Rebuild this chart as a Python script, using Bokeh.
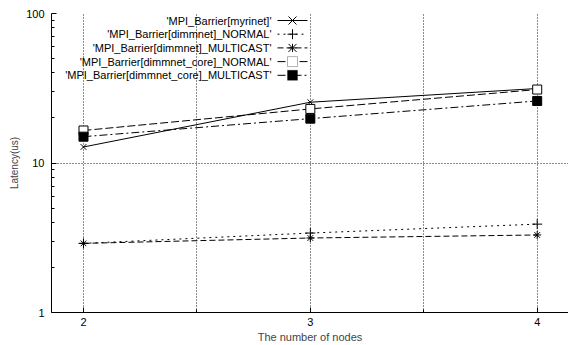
from bokeh.plotting import figure
from bokeh.models import (Range1d, FixedTicker, Label, Arrow, BoxAnnotation)
from bokeh.embed import file_html
from bokeh.resources import INLINE

nodes = [2, 3, 4]
myrinet = [12.8, 25.5, 31.5]
dimmnet_normal = [2.9, 3.4, 3.9]
dimmnet_multicast = [2.9, 3.15, 3.3]
core_normal = [16.5, 23.0, 31.0]
core_multicast = [15.0, 19.8, 26.0]

series_names = ["'MPI_Barrier[myrinet]'",
                "'MPI_Barrier[dimmnet]_NORMAL'",
                "'MPI_Barrier[dimmnet]_MULTICAST'",
                "'MPI_Barrier[dimmnet_core]_NORMAL'",
                "'MPI_Barrier[dimmnet_core]_MULTICAST'"]
series_values = [myrinet, dimmnet_normal, dimmnet_multicast, core_normal, core_multicast]

x_ticks = [2, 3, 4]
x_minor = [2.5, 3.5]
y_ticks = [1, 10, 100]
y_tick_labels = ["1", "10", "100"]

FONT = "Liberation Sans"
styles = [
    dict(dash="solid", marker="x", size=8, fill="black"),
    dict(dash="2 4", marker="cross", size=10, fill="black"),
    dict(dash="6 3", marker="asterisk", size=8, fill="black"),
    dict(dash="8 3", marker="square", size=9, fill="white"),
    dict(dash="8 3 2 3", marker="square", size=9, fill="black"),
]

p = figure(width=568, height=345, y_axis_type="log",
           x_range=Range1d(1.859, 4.138), y_range=Range1d(1, 100),
           output_backend="svg", toolbar_location=None,
           min_border_left=51, min_border_right=0, min_border_top=13, min_border_bottom=33)
p.outline_line_color = None
p.background_fill_color = "white"
p.border_fill_color = "white"

for vals, st in zip(series_values, styles):
    p.line(nodes, vals, line_color="black", line_width=1, line_dash=st["dash"])
    p.scatter(nodes, vals, marker=st["marker"], size=st["size"], line_color="black",
              fill_color=st["fill"], line_width=1)

# axes
p.xaxis.ticker = FixedTicker(ticks=x_ticks, minor_ticks=x_minor)
p.yaxis.ticker = FixedTicker(ticks=y_ticks,
                             minor_ticks=[v * d for d in (1, 10) for v in range(2, 10)])
p.yaxis.major_label_overrides = {t: s for t, s in zip(y_ticks, y_tick_labels)}
for ax in (p.xaxis[0], p.yaxis[0]):
    ax.axis_line_color = "black"
    ax.major_tick_in = 5
    ax.major_tick_out = 0
    ax.minor_tick_in = 3
    ax.minor_tick_out = 0
    ax.major_label_text_font = FONT
    ax.major_label_text_font_size = "11px"
    ax.axis_label_text_font = FONT
    ax.axis_label_text_font_size = "11px"
    ax.axis_label_text_font_style = "normal"
    ax.major_label_text_color = "black"
p.yaxis.axis_label_text_font_size = "10px"
p.xaxis.major_label_standoff = 5
p.yaxis.major_label_standoff = 7
p.xaxis.axis_label = "The number of nodes"
p.yaxis.axis_label = "Latency(us)"
p.xaxis.axis_label_standoff = 2
p.yaxis.axis_label_standoff = 3

for g in (p.xgrid[0], p.ygrid[0]):
    g.grid_line_color = "black"
    g.grid_line_dash = "1 2"
    g.grid_line_alpha = 0.9
p.xgrid.minor_grid_line_color = "black"
p.xgrid.minor_grid_line_dash = "1 2"
p.xgrid.minor_grid_line_alpha = 0.9

# manual legend (text right-aligned, sample on the right); screen units from frame bottom-left
text_right = 220
line_x0, line_x1, mk_x = 226, 256, 241
row0, row_step = 292, -13.7

def seg(x0, y0, x1, y1, dash="solid"):
    p.add_layout(Arrow(x_start=x0, y_start=y0, x_end=x1, y_end=y1,
                       start_units="screen", end_units="screen",
                       start=None, end=None, line_color="black", line_width=1,
                       line_dash=dash))

for i, (name, st) in enumerate(zip(series_names, styles)):
    y = row0 + i * row_step
    p.add_layout(Label(x=text_right, y=y, x_units="screen", y_units="screen",
                       text=name, text_align="right", text_baseline="middle",
                       text_font=FONT, text_font_size="11px", text_color="black"))
    seg(line_x0, y, line_x1, y, st["dash"])
    m = st["marker"]
    if m == "x":
        h = 4
        seg(mk_x - h, y - h, mk_x + h, y + h)
        seg(mk_x - h, y + h, mk_x + h, y - h)
    elif m == "cross":
        h = 5
        seg(mk_x - h, y, mk_x + h, y)
        seg(mk_x, y - h, mk_x, y + h)
    elif m == "asterisk":
        h = 4
        seg(mk_x - h, y, mk_x + h, y)
        seg(mk_x, y - h, mk_x, y + h)
        seg(mk_x - h, y - h, mk_x + h, y + h)
        seg(mk_x - h, y + h, mk_x + h, y - h)
    elif m == "square":
        h = 5
        p.add_layout(BoxAnnotation(left=mk_x - h, right=mk_x + h, top=y + h, bottom=y - h,
                                   left_units="screen", right_units="screen",
                                   top_units="screen", bottom_units="screen",
                                   fill_color=st["fill"], fill_alpha=1,
                                   line_color="black", line_width=1))

open("out.html", "w").write(file_html(p, INLINE))
